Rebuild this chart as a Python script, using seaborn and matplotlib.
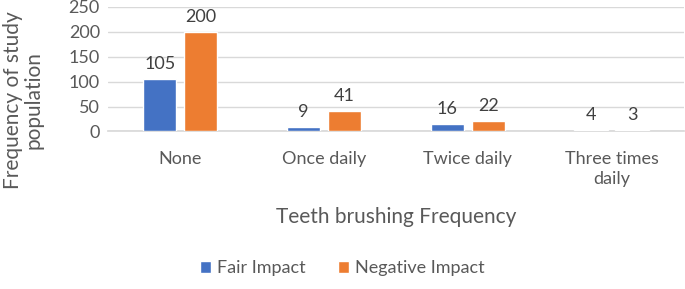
import numpy as np
import pandas as pd
import seaborn as sns
import matplotlib.pyplot as plt

# chart data
categories = ["None", "Once daily", "Twice daily", "Three times\ndaily"]
fair_impact = [105, 9, 16, 4]
negative_impact = [200, 41, 22, 3]
series_names = ["Fair Impact", "Negative Impact"]
y_ticks = [0, 50, 100, 150, 200, 250]

df = pd.DataFrame({
    "category": categories * 2,
    "value": fair_impact + negative_impact,
    "impact": [series_names[0]] * len(categories) + [series_names[1]] * len(categories),
})

sns.set_theme(style="white")
plt.rcParams["font.family"] = ["Lato", "DejaVu Sans"]
grey = "#595959"

fig = plt.figure(figsize=(6.85, 2.89), dpi=100)
ax = fig.add_axes([0.158, 0.545, 0.84, 0.431])

ax = sns.barplot(data=df, x="category", y="value", hue="impact",
                 palette=["#4472C4", "#ED7D31"], width=0.57, gap=0.18,
                 saturation=1, ax=ax)
# bars on top of the grid lines
for p in ax.patches:
    p.set_zorder(3)
ax.set_axisbelow(True)

# value labels above bars
for cont in ax.containers:
    ax.bar_label(cont, padding=5, fontsize=13, color="#404040")

ax.set_ylim(0, 250)
ax.set_yticks(y_ticks)
ax.yaxis.grid(True, color="#d9d9d9", linewidth=1)
for s in ["top", "right", "left"]:
    ax.spines[s].set_visible(False)
ax.spines["bottom"].set_color("#d9d9d9")
ax.spines["bottom"].set_zorder(1)
ax.tick_params(axis="both", length=0, labelsize=13, colors=grey, pad=6)
ax.tick_params(axis="x", pad=14)
for lbl in ax.get_xticklabels():
    lbl.set_linespacing(1.3)
ax.set_xlabel("")
ax.set_ylabel("")

fig.text(0.034, 0.655, "Frequency of study\npopulation", rotation=90,
         ha="center", va="center", fontsize=15, color=grey, linespacing=1.05)
fig.text(0.578, 0.25, "Teeth brushing Frequency", ha="center", va="center",
         fontsize=15, color=grey)

handles, labels = ax.get_legend_handles_labels()
ax.legend_.remove()
fig.legend(handles, labels, loc="center", bbox_to_anchor=(0.5, 0.072), ncol=2,
           frameon=False, fontsize=13, handlelength=0.6, handleheight=0.6,
           handletextpad=0.35, columnspacing=1.8, labelcolor=grey)

fig.savefig("out.png", dpi=100)
